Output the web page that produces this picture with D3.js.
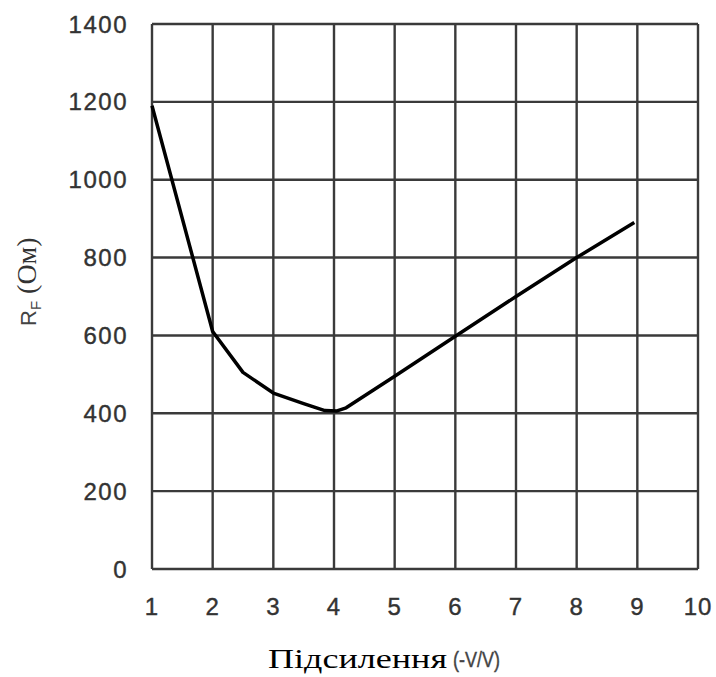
<!DOCTYPE html>
<html>
<head>
<meta charset="utf-8">
<script src="https://cdn.jsdelivr.net/npm/d3@7"></script>
<style>
  body { margin: 0; background: #fff; }
  svg { display: block; }
</style>
</head>
<body>
<div id="chart"></div>
<script>
// curve: gain (-V/V) vs feedback resistor (Ohm)
var gain = [1, 2, 2.5, 3, 3.5, 3.85, 4.05, 4.2, 5, 6, 7, 8, 8.95];
var rf = [1190, 610, 505, 452, 425, 407, 406, 414, 495, 598, 700, 800, 890];

var xTicks = [1, 2, 3, 4, 5, 6, 7, 8, 9, 10];
var yTicks = [0, 200, 400, 600, 800, 1000, 1200, 1400];

var width = 716, height = 677;
var margin = { left: 152, right: 18, top: 24, bottom: 108 };

var svg = d3.select('#chart')
    .append('svg')
    .attr('width', width)
    .attr('height', height);

var x = d3.scaleLinear()
    .domain([1, 10])
    .range([margin.left, width - margin.right]);

var y = d3.scaleLinear()
    .domain([0, 1400])
    .range([height - margin.bottom, margin.top]);

// grid
var grid = svg.append('g').attr('stroke', '#3a3a3a').attr('stroke-width', 2.4);

grid.selectAll('line.v')
    .data(xTicks)
    .enter().append('line')
    .attr('class', 'v')
    .attr('x1', function(d) { return x(d); })
    .attr('x2', function(d) { return x(d); })
    .attr('y1', y(0))
    .attr('y2', y(1400));

grid.selectAll('line.h')
    .data(yTicks)
    .enter().append('line')
    .attr('class', 'h')
    .attr('x1', x(1))
    .attr('x2', x(10))
    .attr('y1', function(d) { return y(d); })
    .attr('y2', function(d) { return y(d); });

// tick labels
var tickFont = '"Liberation Sans", Arial, sans-serif';

svg.append('g')
    .selectAll('text')
    .data(yTicks)
    .enter().append('text')
    .attr('x', 128)
    .attr('y', function(d) { return y(d); })
    .attr('dy', '0.36em')
    .attr('text-anchor', 'end')
    .style('font-family', tickFont)
    .style('font-size', '24px')
    .style('letter-spacing', '1.5px')
    .style('fill', '#333')
    .style('stroke', '#333')
    .style('stroke-width', 0.4)
    .text(function(d) { return d; });

svg.append('g')
    .selectAll('text')
    .data(xTicks)
    .enter().append('text')
    .attr('x', function(d) { return x(d); })
    .attr('y', 615)
    .attr('text-anchor', 'middle')
    .style('font-family', tickFont)
    .style('font-size', '24px')
    .style('letter-spacing', '1px')
    .style('fill', '#333')
    .style('stroke', '#333')
    .style('stroke-width', 0.4)
    .text(function(d) { return d; });

// curve
var line = d3.line()
    .x(function(d) { return x(d[0]); })
    .y(function(d) { return y(d[1]); })
    .curve(d3.curveLinear);

svg.append('path')
    .datum(d3.zip(gain, rf))
    .attr('d', line)
    .attr('fill', 'none')
    .attr('stroke', '#000')
    .attr('stroke-width', 3.5)
    .attr('stroke-linejoin', 'round');

// axis titles
svg.append('text')
    .attr('x', 268)
    .attr('y', 668)
    .attr('textLength', 179)
    .attr('lengthAdjust', 'spacingAndGlyphs')
    .style('font-family', '"Liberation Serif", "Times New Roman", serif')
    .style('font-size', '28px')
    .style('fill', '#000')
    .text('Підсилення');

svg.append('text')
    .attr('x', 453)
    .attr('y', 667)
    .attr('textLength', 47)
    .attr('lengthAdjust', 'spacingAndGlyphs')
    .style('font-family', tickFont)
    .style('font-size', '22px')
    .style('fill', '#444')
    .style('stroke', '#444')
    .style('stroke-width', 0.4)
    .text('(-V/V)');

var yTitle = svg.append('text')
    .attr('transform', 'translate(36,326) rotate(-90)');
yTitle.append('tspan')
    .style('font-family', tickFont)
    .style('font-size', '22px')
    .style('fill', '#444')
    .text('R');
yTitle.append('tspan')
    .attr('dy', 5)
    .style('font-family', tickFont)
    .style('font-size', '15px')
    .style('fill', '#444')
    .text('F');
yTitle.append('tspan')
    .attr('dy', -5)
    .style('font-family', '"Liberation Serif", "Times New Roman", serif')
    .style('font-size', '28px')
    .style('fill', '#333')
    .text(' (Ом)');
</script>
</body>
</html>
